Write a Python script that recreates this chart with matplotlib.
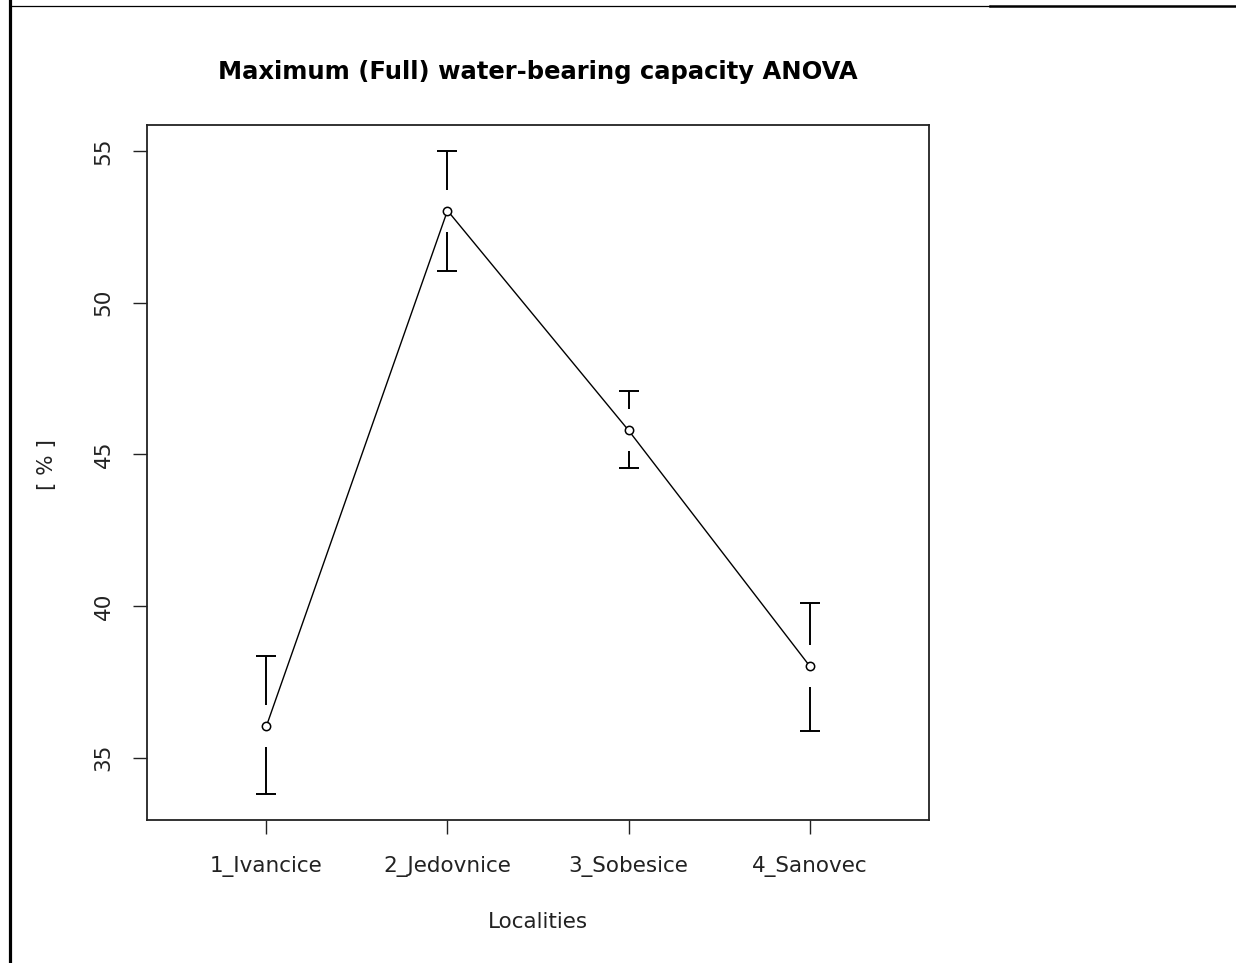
import matplotlib
matplotlib.use("Agg")
import matplotlib.pyplot as plt
from matplotlib.lines import Line2D
import numpy as np

# Data
localities = ["1_Ivancice", "2_Jedovnice", "3_Sobesice", "4_Sanovec"]
means = [36.05, 53.03, 45.79, 38.03]
ci_upper = [38.36, 55.0, 47.1, 40.1]
ci_lower = [33.82, 51.05, 44.54, 35.89]
y_ticks = [35, 40, 45, 50, 55]

W, H = 1236, 963
fig = plt.figure(figsize=(W / 100, H / 100), dpi=100)
fig.patch.set_facecolor("white")

ax = fig.add_axes([147 / W, (H - 820) / H, 782 / W, 695 / H])
x = np.arange(1, len(localities) + 1)
ax.set_xlim(0.34, 4.66)
ax.set_ylim(32.95, 55.85)

# connecting line and points
ax.plot(x, means, color="black", lw=1.0, zorder=3)
ax.plot(x, means, linestyle="none", marker="o", markersize=6,
        markerfacecolor="white", markeredgecolor="black", markeredgewidth=1.1, zorder=4)

# error bars with gap around the mean
ylo, yhi = ax.get_ylim()
xlo, xhi = ax.get_xlim()
unit_y = (yhi - ylo) / 695.0
unit_x = (xhi - xlo) / 782.0
gap = 21 * unit_y
cap = 10 * unit_x
for xi, m, u, l in zip(x, means, ci_upper, ci_lower):
    ax.plot([xi, xi], [m + gap, u], color="black", lw=1.4, solid_capstyle="butt")
    ax.plot([xi, xi], [m - gap, l], color="black", lw=1.4, solid_capstyle="butt")
    ax.plot([xi - cap, xi + cap], [u, u], color="black", lw=1.4, solid_capstyle="butt")
    ax.plot([xi - cap, xi + cap], [l, l], color="black", lw=1.4, solid_capstyle="butt")

ax.set_xticks(x)
ax.set_xticklabels(localities, fontsize=15.5, color="#222222")
ax.set_yticks(y_ticks)
ax.set_yticklabels([str(v) for v in y_ticks], fontsize=15.5, color="#222222",
                   rotation=90, va="center")
ax.tick_params(axis="both", direction="out", length=10, width=1.0, color="#222222")
ax.tick_params(axis="x", pad=16)
ax.tick_params(axis="y", pad=14)
for s in ax.spines.values():
    s.set_linewidth(1.3)
    s.set_color("#222222")

fig.text(538 / W, 1 - 72 / H, "Maximum (Full) water-bearing capacity ANOVA",
         ha="center", va="center", fontsize=17.5, fontweight="bold", color="black")
fig.text(538 / W, 1 - 922 / H, "Localities", ha="center", va="center",
         fontsize=15.5, color="#222222")
fig.text(47 / W, 1 - 465 / H, "[ % ]", ha="center", va="center",
         fontsize=15.5, rotation=90, color="#222222")

# page border lines
fig.add_artist(Line2D([10 / W, 10 / W], [0, 1], transform=fig.transFigure,
                      color="black", lw=2.3))
fig.add_artist(Line2D([10 / W, 990 / W], [1 - 6 / H, 1 - 6 / H], transform=fig.transFigure,
                      color="black", lw=0.9))
fig.add_artist(Line2D([990 / W, 1], [1 - 6.5 / H, 1 - 6.5 / H], transform=fig.transFigure,
                      color="black", lw=1.8))

fig.savefig("out.png", dpi=100, facecolor="white")
